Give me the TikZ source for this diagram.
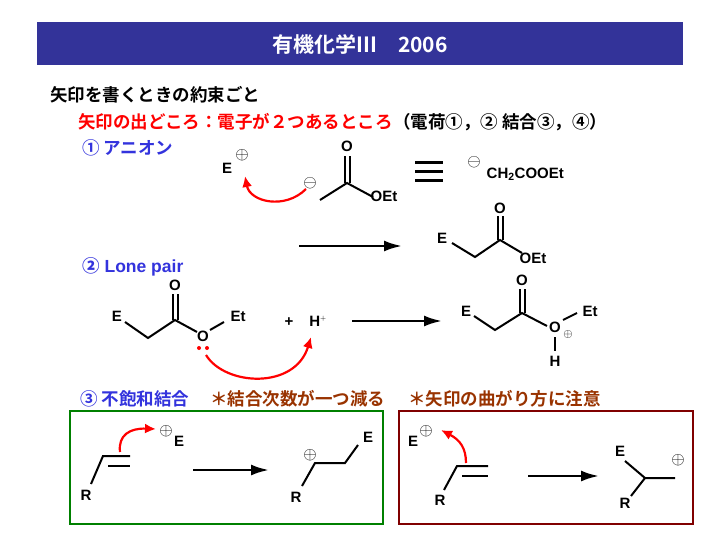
\documentclass[tikz,border=0pt]{standalone}
\usepackage{fontspec}
\setmainfont{Liberation Sans}[BoldFont={Liberation Sans Bold}]
\newfontfamily\jp{Noto Sans CJK JP Bold}
\usetikzlibrary{arrows.meta}
\definecolor{hdr}{HTML}{333399}
\definecolor{ublue}{HTML}{3333DD}
\definecolor{brn}{HTML}{993300}
\definecolor{grn}{HTML}{008000}
\definecolor{dred}{HTML}{800000}
\begin{document}
\begin{tikzpicture}[x=1pt,y=-1pt,
  bond/.style={line width=2pt},
  atm/.style={font=\bfseries\fontsize{15}{15}\selectfont,inner sep=0.5pt},
  chg/.style={font=\fontsize{17}{17}\selectfont,inner sep=0pt},
  jt/.style={font=\jp\fontsize{17.5}{17.5}\selectfont,inner sep=0pt,anchor=west},
  rarr/.style={red,line width=2.2pt,-{Latex[length=11pt,width=10pt]}},
  bigarr/.style={line width=2.6pt,-{Latex[length=18pt,width=11pt]}}]
\useasboundingbox (0,0) rectangle (720,540);
\fill[white] (0,0) rectangle (720,540);
\fill[hdr] (37,22) rectangle (683,65);
\node[white,font=\jp\fontsize{21}{21}\selectfont] (title) at (360,44) {有機化学III　2006};
\node[jt] (l1) at (50,95) {矢印を書くときの約束ごと};
\node[jt,red] (l2) at (78,122) {矢印の出どころ：電子が２つあるところ};
\node[jt,anchor=west] (l2b) at (l2.east) {（電荷①，② 結合③，④）};
\node[jt,ublue] (s1) at (82,148) {① アニオン};
% structure 1
\node[atm] (e1) at (227,168) {E};
\node[chg] (p1) at (242,155) {$\oplus$};
\node[chg] (m1) at (310,183) {$\ominus$};
\draw[bond] (320,200) -- (347,183) -- (373,197);
\draw[bond] (344.5,183) -- (344.5,156) (349.5,183) -- (349.5,156);
\node[atm] (o1) at (347,146) {O};
\node[atm,anchor=west] (oet1) at (370,196) {OEt};
\draw[rarr] (306,189) .. controls (285,210) and (250,202) .. (245,176);
\draw[line width=3pt] (415,163) -- (443,163) (415,172) -- (443,172) (415,181) -- (443,181);
\node[chg] (m2) at (474,162) {$\ominus$};
\node[atm,anchor=west] (ch2) at (486,174) {CH$_\mathbf{2}$COOEt};
\coordinate (a1s) at (299,246); \coordinate (a1e) at (402,246);
\draw[bigarr] (a1s) -- (a1e);
\node[atm] (e2) at (442,238) {E};
\draw[bond] (452,243) -- (475,257) -- (500,240) -- (522,253);
\draw[bond] (497.5,240) -- (497.5,216) (502.5,240) -- (502.5,216);
\node[atm] (o2) at (500,208) {O};
\node[atm,anchor=west] (oet2) at (519,258) {OEt};
% structure 2
\node[jt,ublue,font=\bfseries\fontsize{17.5}{17.5}\selectfont] (s2) at (82,267) {\jp ②\normalfont\bfseries\ Lone pair};
\node[atm] (e3) at (117,316) {E};
\draw[bond] (125,322) -- (148,338) -- (175,320) -- (197,332);
\draw[bond] (172.5,320) -- (172.5,294) (177.5,320) -- (177.5,294);
\node[atm] (o3) at (175,285) {O};
\node[atm] (o4) at (203,336) {O};
\draw[bond] (210,330) -- (224,322);
\node[atm] (et3) at (238,316) {Et};
\fill[red] (199,348) circle (2) (207,348) circle (2);
\draw[rarr] (206,355) .. controls (225,386) and (295,390) .. (311,337);
\node[atm] (plus) at (289,322) {+};
\node[atm] (h1) at (318,321) {H$^{\scriptscriptstyle +}$};
\coordinate (a2s) at (352,321); \coordinate (a2e) at (442,321);
\draw[bigarr] (a2s) -- (a2e);
\node[atm] (e4) at (466,311) {E};
\draw[bond] (474,316) -- (495,330) -- (522,313) -- (547,326);
\draw[bond] (519.5,313) -- (519.5,289) (524.5,313) -- (524.5,289);
\node[atm] (o5) at (522,280) {O};
\node[atm] (o6) at (555,327) {O};
\node[chg,font=\fontsize{13}{13}\selectfont] (p2) at (568,334) {$\oplus$};
\draw[bond] (563,320) -- (577,313);
\node[atm] (et4) at (590,311) {Et};
\draw[bond] (555,337) -- (555,351);
\node[atm] (h2) at (555,361) {H};
% section 3
\node[jt,ublue] (s3) at (80,399) {③ 不飽和結合};
\node[jt,brn] (s3b) at (210,399) {＊結合次数が一つ減る};
\node[jt,brn] (s3c) at (408,399) {＊矢印の曲がり方に注意};
\draw[grn,line width=2pt] (70,411) rectangle (383,524);
\draw[dred,line width=2pt] (399,411) rectangle (693,524);
% left box
\node[atm] (r1) at (86,495) {R};
\draw[bond] (91,484) -- (103,456) -- (130,456);
\draw[bond] (108,466) -- (130,466);
\draw[rarr] (120,452) .. controls (118,435) and (130,428) .. (156,429);
\node[chg] (p3) at (166,431) {$\oplus$};
\node[atm] (e5) at (179,441) {E};
\coordinate (a3s) at (193,470); \coordinate (a3e) at (269,470);
\draw[bigarr] (a3s) -- (a3e);
\node[chg] (p4) at (310,455) {$\oplus$};
\node[atm] (r2) at (296,497) {R};
\draw[bond] (302,486) -- (315,463) -- (345,463) -- (358,445);
\node[atm] (e6) at (368,437) {E};
% right box
\node[atm] (e7) at (413,441) {E};
\node[chg] (p5) at (426,431) {$\oplus$};
\draw[rarr] (466,463) .. controls (466,448) and (460,440) .. (441,430);
\node[atm] (r3) at (440,500) {R};
\draw[bond] (444,490) -- (457,466) -- (488,466);
\draw[bond] (462,476) -- (488,476);
\coordinate (a4s) at (528,476); \coordinate (a4e) at (599,476);
\draw[bigarr] (a4s) -- (a4e);
\node[atm] (e8) at (620,451) {E};
\draw[bond] (625,461) -- (645,478) -- (675,478) (645,478) -- (631,496);
\node[atm] (r4) at (625,503) {R};
\node[chg] (p6) at (678,460) {$\oplus$};
\end{tikzpicture}
\end{document}
